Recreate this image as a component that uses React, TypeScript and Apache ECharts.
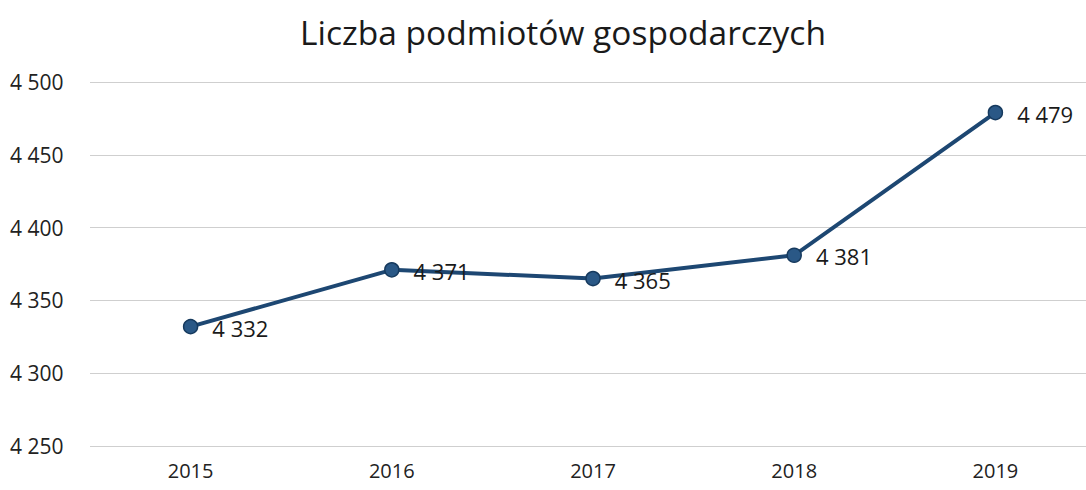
import React, { useEffect, useRef } from "react";
import * as echarts from "echarts";

const title = "Liczba podmiotów gospodarczych";
const years = ["2015", "2016", "2017", "2018", "2019"];
const values = [4332, 4371, 4365, 4381, 4479];
const yMin = 4250;
const yMax = 4500;
const yStep = 50;

const fmt = (v: number) => {
  const s = String(Math.round(v));
  return s.replace(/\B(?=(\d{3})+(?!\d))/g, " ");
};

export default function App() {
  const ref = useRef<HTMLDivElement>(null);
  useEffect(() => {
    if (!ref.current) return;
    const chart = echarts.init(ref.current, null, { renderer: "svg" });
    chart.setOption({
      animation: false,
      backgroundColor: "#ffffff",
      title: {
        text: title,
        left: 558,
        textAlign: "center",
        top: 10,
        textStyle: {
          fontFamily: "Open Sans",
          fontSize: 33.5,
          fontWeight: "normal",
          color: "#1a1a1a",
        },
      },
      grid: { left: 90, right: 0, top: 82, bottom: 44, containLabel: false },
      xAxis: {
        type: "category",
        data: years,
        boundaryGap: true,
        axisLine: { show: false },
        axisTick: { show: false },
        axisLabel: {
          fontFamily: "Open Sans",
          fontSize: 20,
          color: "#222",
          margin: 14,
        },
      },
      yAxis: {
        type: "value",
        min: yMin,
        max: yMax,
        interval: yStep,
        axisLine: { show: false },
        axisTick: { show: false },
        axisLabel: {
          fontFamily: "Open Sans",
          fontSize: 21,
          color: "#222",
          align: "left",
          margin: 80,
          formatter: (v: number) => fmt(v),
        },
        splitLine: { lineStyle: { color: "#cfcfcf", width: 1 } },
      },
      series: [
        {
          type: "line",
          data: values,
          symbol: "circle",
          symbolSize: 14,
          lineStyle: { color: "#1d4772", width: 4 },
          itemStyle: { color: "#2a5886", borderColor: "#163a5e", borderWidth: 1.5 },
          label: {
            show: true,
            position: "right",
            distance: 14,
            offset: [0, 1],
            fontFamily: "Open Sans",
            fontSize: 22,
            color: "#1a1a1a",
            formatter: (p: any) => fmt(p.value),
          },
        },
      ],
    });
    return () => chart.dispose();
  }, []);
  return (
    <div
      ref={ref}
      style={{ position: "fixed", left: 0, top: 0, width: 1096, height: 490 }}
    />
  );
}
